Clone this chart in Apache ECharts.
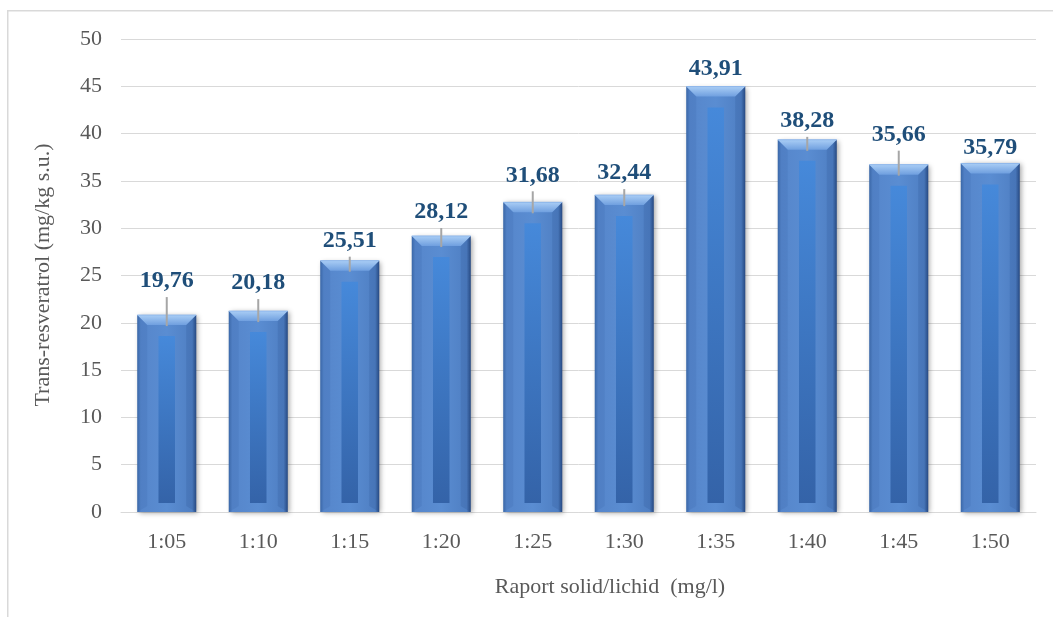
<!DOCTYPE html>
<html>
<head>
<meta charset="utf-8">
<script src="https://cdn.jsdelivr.net/npm/echarts@6/dist/echarts.min.js"></script>
<style>
html,body{margin:0;padding:0;background:#fff;}
#chart{width:1053px;height:617px;}
</style>
</head>
<body>
<div id="chart"></div>
<script>
// ---- data ----
const categories = ['1:05', '1:10', '1:15', '1:20', '1:25', '1:30', '1:35', '1:40', '1:45', '1:50'];
const values = [19.76, 20.18, 25.51, 28.12, 31.68, 32.44, 43.91, 38.28, 35.66, 35.79];
const yMin = 0, yMax = 50, yStep = 5;
const xTitle = 'Raport solid/lichid  (mg/l)';
const yTitle = 'Trans-resveratrol (mg/kg s.u.)';
// ---- styles (label lift above bar top, px) ----
const labelLift = [34, 28, 20, 24, 27, 22, 18, 19, 30, 16];

const FONT = '"Liberation Serif", "Times New Roman", serif';
const GREY = '#595959';

const chart = echarts.init(document.getElementById('chart'));

function renderBar(params, api) {
  const idx = api.value(0);
  const v = api.value(1);
  const top = api.coord([idx, v]);
  const base = api.coord([idx, 0]);
  const band = api.size([1, 0])[0];
  const w = band * 0.645;
  const cx = top[0];
  const x0 = cx - w / 2;
  const yTop = top[1] - 10;
  const yBot = base[1];
  const h = yBot - yTop;
  const bev = 10;
  const lift = labelLift[idx];
  const labelY = yTop - lift;
  const innerW = w * 0.28;
  const children = [
    {
      type: 'rect',
      shape: { x: x0, y: yTop, width: w, height: h },
      style: {
        fill: new echarts.graphic.LinearGradient(0, 0, 1, 0, [
          { offset: 0, color: '#3d6bab' },
          { offset: 0.06, color: '#5686cb' },
          { offset: 0.5, color: '#5a8dd2' },
          { offset: 0.93, color: '#4f7fc3' },
          { offset: 1, color: '#2a4d86' }
        ]),
        shadowBlur: 5,
        shadowOffsetX: 2,
        shadowOffsetY: 1,
        shadowColor: 'rgba(0,0,0,0.35)'
      }
    },
    {
      type: 'polygon',
      shape: { points: [[x0, yTop], [x0 + w, yTop], [x0 + w - bev, yTop + bev], [x0 + bev, yTop + bev]] },
      style: {
        fill: new echarts.graphic.LinearGradient(0, 0, 0, 1, [
          { offset: 0, color: '#a9cdf5' },
          { offset: 1, color: '#6f9fdf' }
        ])
      }
    },
    {
      type: 'polygon',
      shape: { points: [[x0, yTop], [x0 + bev, yTop + bev], [x0 + bev, yBot - bev * 0.6], [x0, yBot]] },
      style: { fill: 'rgba(40,80,150,0.12)' }
    },
    {
      type: 'polygon',
      shape: { points: [[x0 + w, yTop], [x0 + w - bev, yTop + bev], [x0 + w - bev, yBot - bev * 0.6], [x0 + w, yBot]] },
      style: { fill: 'rgba(20,50,110,0.12)' }
    },
    {
      type: 'rect',
      shape: { x: cx - innerW / 2, y: yTop + 21, width: innerW, height: Math.max(0, h - 30) },
      style: {
        fill: new echarts.graphic.LinearGradient(0, 0, 0, 1, [
          { offset: 0, color: '#4689da' },
          { offset: 1, color: '#3463a8' }
        ])
      }
    },
    {
      type: 'line',
      shape: { x1: x0, y1: yTop, x2: x0 + w, y2: yTop },
      style: { stroke: '#8fb8ec', lineWidth: 1 }
    }
  ];
  if (lift >= 19) {
    children.push({
      type: 'line',
      shape: { x1: cx, y1: labelY + 16, x2: cx, y2: yTop + 11 },
      style: { stroke: '#a6a6a6', lineWidth: 2 }
    });
  }
  children.push({
    type: 'text',
    style: {
      x: cx,
      y: labelY,
      text: v.toFixed(2).replace('.', ','),
      fill: '#1f4e79',
      font: 'bold 24px ' + FONT,
      align: 'center',
      verticalAlign: 'middle'
    }
  });
  return { type: 'group', children: children };
}

const option = {
  animation: false,
  backgroundColor: '#ffffff',
  grid: { left: 121, right: 17, top: 39, bottom: 105, containLabel: false },
  xAxis: {
    type: 'category',
    data: categories,
    axisLine: { show: true, lineStyle: { color: '#d9d9d9', width: 1 } },
    axisTick: { show: false },
    axisLabel: { color: GREY, fontFamily: FONT, fontSize: 22, margin: 19 }
  },
  yAxis: {
    type: 'value',
    min: yMin,
    max: yMax,
    interval: yStep,
    axisLine: { show: false },
    axisTick: { show: false },
    splitLine: { show: true, lineStyle: { color: '#d9d9d9', width: 1 } },
    axisLabel: { color: GREY, fontFamily: FONT, fontSize: 22, margin: 19 }
  },
  graphic: [
    {
      type: 'rect',
      left: 7, top: 10,
      shape: { x: 0, y: 0, width: 1060, height: 640 },
      style: { fill: 'transparent', stroke: '#d9d9d9', lineWidth: 1.5 },
      silent: true,
      z: -10
    },
    {
      type: 'text',
      x: 610, y: 587,
      style: { text: xTitle, fill: GREY, font: '22px ' + FONT, align: 'center', verticalAlign: 'middle' }
    },
    {
      type: 'text',
      x: 43, y: 275,
      rotation: Math.PI / 2,
      style: { text: yTitle, fill: GREY, font: '22px ' + FONT, align: 'center', verticalAlign: 'middle' }
    }
  ],
  series: [
    {
      type: 'custom',
      renderItem: renderBar,
      encode: { x: 0, y: 1 },
      data: values.map((v, i) => [i, v]),
      clip: false
    }
  ]
};

chart.setOption(option);
</script>
</body>
</html>
